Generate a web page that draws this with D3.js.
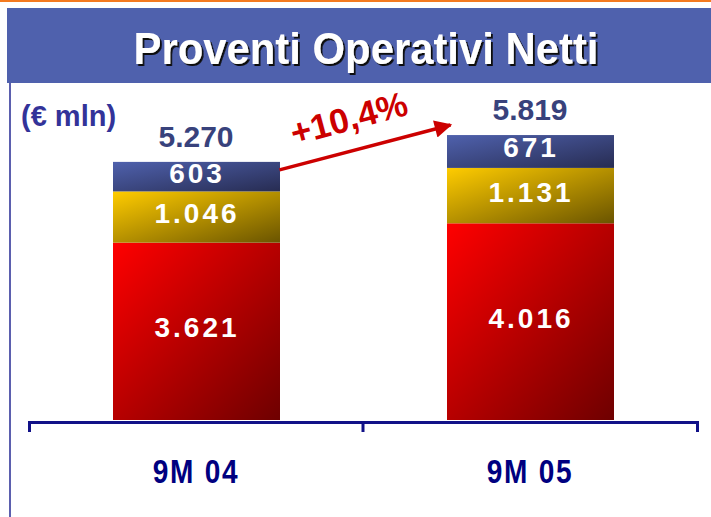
<!DOCTYPE html>
<html>
<head>
<meta charset="utf-8">
<script src="https://cdn.jsdelivr.net/npm/d3@7"></script>
<style>
  body { margin: 0; background: #fff; }
  svg { display: block; }
</style>
</head>
<body>
<div id="my_dataviz"></div>
<script>
// data
var categories = ["9M 04", "9M 05"];
var seriesNames = ["base", "mid", "top"];
var baseValues = [3621, 4016];
var midValues = [1046, 1131];
var topValues = [603, 671];
var totalLabels = ["5.270", "5.819"];
var segmentLabels = [["3.621", "1.046", "603"], ["4.016", "1.131", "671"]];
var growthLabel = "+10,4%";

var width = 711, height = 517;

var svg = d3.select("#my_dataviz")
    .append("svg")
    .attr("width", width)
    .attr("height", height);

// gradients for the three segments
var defs = svg.append("defs");
var grads = {
    base: ["#ff0000", "#6e0000"],
    mid: ["#ffcc00", "#6a5400"],
    top: ["#4f61ad", "#272c52"]
};
Object.keys(grads).forEach(function(k) {
    var g = defs.append("linearGradient")
        .attr("id", "g_" + k)
        .attr("x1", "0%").attr("y1", "0%")
        .attr("x2", "100%").attr("y2", "100%");
    g.append("stop").attr("offset", "0%").attr("stop-color", grads[k][0]);
    g.append("stop").attr("offset", "100%").attr("stop-color", grads[k][1]);
});
var marker = defs.append("marker")
    .attr("id", "arrowhead")
    .attr("viewBox", "0 0 10 10")
    .attr("refX", 9).attr("refY", 5)
    .attr("markerWidth", 6).attr("markerHeight", 5)
    .attr("markerUnits", "strokeWidth")
    .attr("orient", "auto");
marker.append("path").attr("d", "M0,0L10,5L0,10z").attr("fill", "#cc0000");

// title shadow
var shadow = defs.append("filter").attr("id", "shadow")
    .attr("x", "-10%").attr("y", "-20%").attr("width", "120%").attr("height", "150%");
shadow.append("feDropShadow")
    .attr("dx", 2).attr("dy", 2).attr("stdDeviation", 0.4)
    .attr("flood-color", "#111111").attr("flood-opacity", 1);

// top orange rule and title band
svg.append("rect").attr("x", 0).attr("y", 0).attr("width", width).attr("height", 2).attr("fill", "#f47a20");
svg.append("rect").attr("x", 7).attr("y", 8).attr("width", width - 7).attr("height", 75).attr("fill", "#4f61ad");
svg.append("line")
    .attr("x1", 10).attr("x2", 10).attr("y1", 83).attr("y2", height)
    .attr("stroke", "#5b5fae").attr("stroke-width", 2);

var font = "'Liberation Sans', Arial, sans-serif";
svg.append("text")
    .attr("transform", "translate(366,64) scale(0.93,1)")
    .attr("text-anchor", "middle")
    .style("font-family", font).style("font-weight", "bold").style("font-size", "45px")
    .attr("fill", "#ffffff")
    .attr("filter", "url(#shadow)")
    .text("Proventi Operativi Netti");

svg.append("text")
    .attr("x", 21).attr("y", 126)
    .style("font-family", font).style("font-weight", "bold").style("font-size", "29px")
    .attr("fill", "#333399")
    .text("(€ mln)");

// scales
var x = d3.scaleBand()
    .domain(categories)
    .range([29, 697]);
var y = d3.scaleLinear()
    .domain([0, 5819])
    .range([420, 135]);

// stacked data
var rows = categories.map(function(c, i) {
    return { cat: c, base: baseValues[i], mid: midValues[i], top: topValues[i] };
});
var stacked = d3.stack().keys(seriesNames)(rows);

var barW = x.bandwidth() * 0.5;
var layers = svg.append("g").selectAll("g")
    .data(stacked)
    .enter().append("g")
    .attr("fill", function(d) { return "url(#g_" + d.key + ")"; });

layers.selectAll("rect")
    .data(function(d) { return d; })
    .enter().append("rect")
    .attr("x", function(d) { return x(d.data.cat) + x.bandwidth() * 0.25 + 0.5; })
    .attr("width", barW)
    .attr("y", function(d) { return y(d[1]); })
    .attr("height", function(d) { return y(d[0]) - y(d[1]); });

// segment labels
stacked.forEach(function(layer, li) {
    svg.append("g").selectAll("text")
        .data(layer)
        .enter().append("text")
        .attr("x", function(d) { return x(d.data.cat) + x.bandwidth() / 2 + 1; })
        .attr("y", function(d) { return (y(d[0]) + y(d[1])) / 2 + 6; })
        .attr("text-anchor", "middle")
        .style("font-family", font)
        .style("font-weight", "bold").style("font-size", "28px")
        .style("letter-spacing", "3px")
        .attr("fill", "#ffffff")
        .text(function(d, i) { return segmentLabels[i][li]; });
});

// totals
svg.append("g").selectAll("text")
    .data(rows)
    .enter().append("text")
    .attr("x", function(d) { return x(d.cat) + x.bandwidth() / 2; })
    .attr("y", function(d) { return y(d.base + d.mid + d.top) - 15; })
    .attr("text-anchor", "middle")
    .style("font-family", font)
    .style("font-weight", "bold").style("font-size", "30px")
    .attr("fill", "#38427c")
    .text(function(d, i) { return totalLabels[i]; });

// growth arrow
var x0 = x(categories[0]) + x.bandwidth() * 0.75,
    x1 = x(categories[1]) + x.bandwidth() * 0.25;
svg.append("line")
    .attr("x1", x0).attr("y1", y(rows[0].base + rows[0].mid + rows[0].top) + 8)
    .attr("x2", x1 + 4).attr("y2", y(rows[1].base + rows[1].mid + rows[1].top) - 10)
    .attr("stroke", "#cc0000").attr("stroke-width", 3.5)
    .attr("marker-end", "url(#arrowhead)");
svg.append("text")
    .attr("transform", "translate(352,130) rotate(-15)")
    .attr("text-anchor", "middle")
    .style("font-family", font)
    .style("font-weight", "bold").style("font-size", "35px")
    .attr("fill", "#cc0000")
    .text(growthLabel);

// x axis
var axis = svg.append("g")
    .attr("transform", "translate(0,422)")
    .call(d3.axisBottom(x).tickSizeInner(0).tickSizeOuter(10).tickPadding(38));
axis.select(".domain").attr("stroke", "#111188").attr("stroke-width", 3);
axis.append("line")
    .attr("x1", x(categories[1])).attr("x2", x(categories[1]))
    .attr("y1", 0).attr("y2", 10)
    .attr("stroke", "#111188").attr("stroke-width", 3);
axis.selectAll(".tick text")
    .attr("transform", "scale(0.85,1)")
    .style("font-family", font)
    .style("font-weight", "bold").style("font-size", "33px")
    .style("letter-spacing", "2px")
    .attr("fill", "#000080");
</script>
</body>
</html>
